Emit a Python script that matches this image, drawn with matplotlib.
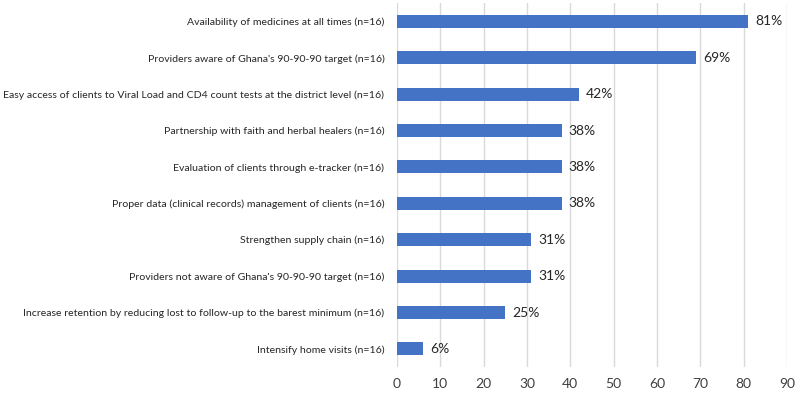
import matplotlib
matplotlib.use("Agg")
import matplotlib.pyplot as plt

# categories top to bottom, as in the chart
labels = [
    "Availability of medicines at all times (n=16)",
    "Providers aware of Ghana's 90-90-90 target (n=16)",
    "Easy access of clients to Viral Load and CD4 count tests at the district level (n=16)",
    "Partnership with faith and herbal healers (n=16)",
    "Evaluation of clients through e-tracker (n=16)",
    "Proper data (clinical records) management of clients (n=16)",
    "Strengthen supply chain (n=16)",
    "Providers not aware of Ghana's 90-90-90 target (n=16)",
    "Increase retention by reducing lost to follow-up to the barest minimum (n=16)",
    "Intensify home visits (n=16)",
]
values = [81, 69, 42, 38, 38, 38, 31, 31, 25, 6]
xticks = [0, 10, 20, 30, 40, 50, 60, 70, 80, 90]

plt.rcParams['font.family'] = ['Lato', 'DejaVu Sans']

fig = plt.figure(figsize=(7.97, 3.96), dpi=100)
ax = fig.add_axes([0.498, 0.073, 0.4895, 0.919])

ypos = list(range(len(labels)))[::-1]
ax.barh(ypos, values, height=0.36, color="#4472C4", zorder=3)

for y, v in zip(ypos, values):
    ax.text(v + 1.6, y, "{}%".format(v), va="center", ha="left",
            fontsize=10, color="#262626")

ax.set_xlim(0, 90)
ax.set_ylim(-0.5, len(labels) - 0.5)
ax.set_xticks(xticks)
ax.set_yticks(ypos)
ax.set_yticklabels(labels, fontsize=9, color="#262626")
ax.tick_params(axis="x", labelsize=10, colors="#404040", length=0, pad=8)
ax.tick_params(axis="y", length=0, pad=9)
ax.grid(axis="x", color="#d9d9d9", linewidth=1, zorder=0)
for s in ax.spines.values():
    s.set_visible(False)

# fit the longest category label into the space left of the axes
fig.canvas.draw()
r = fig.canvas.get_renderer()
widest = max(t.get_window_extent(r).width for t in ax.get_yticklabels())
size = 9 * 378.0 / widest
for t in ax.get_yticklabels():
    t.set_fontsize(size)

fig.savefig("out.png", dpi=100)
